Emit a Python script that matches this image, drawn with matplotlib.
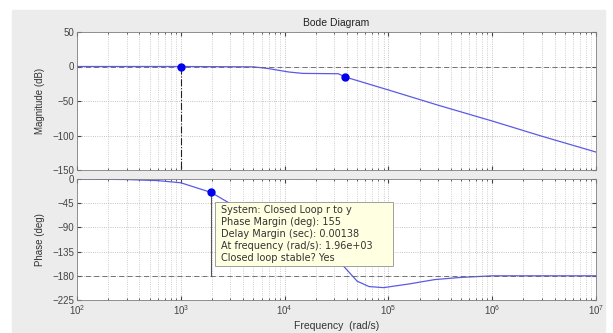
import numpy as np
import matplotlib
matplotlib.use('Agg')
import matplotlib.pyplot as plt
from matplotlib.patches import Rectangle

plt.rcParams['font.family'] = ['Liberation Sans', 'DejaVu Sans']
plt.rcParams['font.size'] = 7

# values
mag_freq = [1e2, 3e2, 1e3, 5e3, 7e3, 1.1e4, 1.5e4, 3.3e4, 3.8e4, 1e5, 3e5, 1e6, 3e6, 1e7]
mag_db = [0, 0, 0, -0.5, -3, -8, -10, -10.5, -15, -34, -56, -79, -101, -124]

phase_freq = [1e2, 3e2, 6e2, 1e3, 1.96e3, 4e3, 1e4, 2e4, 3.5e4, 5e4, 6.5e4, 9e4, 1.6e5, 2.8e5, 5e5, 8e5, 1e6, 3e6, 1e7]
phase_deg = [0, -1, -3, -7, -25, -60, -100, -135, -157, -190, -200, -202, -195, -187, -183, -181, -180, -180, -180]

# markers: (freq, value)
mag_mark1 = (1e3, 0)
mag_mark2 = (3.8e4, -15)
pm_mark = (1.96e3, -25)

tip_lines = ['System: Closed Loop r to y',
             'Phase Margin (deg): 155',
             'Delay Margin (sec): 0.00138',
             'At frequency (rad/s): 1.96e+03',
             'Closed loop stable? Yes']

W, H = 613, 333
fig = plt.figure(figsize=(W/100, H/100), dpi=100)
fig.patches.append(Rectangle((12/W, 0), (605-12)/W, (H-10)/H, transform=fig.transFigure,
                             color='#ececec', zorder=-10))

def px_axes(l, r, t, b):
    return fig.add_axes([l/W, 1-b/H, (r-l)/W, (b-t)/H])

ax1 = px_axes(77, 596, 32, 170)
ax2 = px_axes(77, 596, 179, 300)

line_col = '#5a5ae6'
for ax in (ax1, ax2):
    ax.set_xscale('log')
    ax.set_xlim(1e2, 1e7)
    ax.grid(which='major', axis='both', color='#b0b0b0', linestyle=':', linewidth=0.6)
    ax.grid(which='minor', axis='x', color='#c0c0c0', linestyle=':', linewidth=0.6)
    ax.tick_params(which='both', direction='in', colors='#444444', labelsize=7, length=3,
                   top=True, right=True, pad=2)
    ax.tick_params(which='minor', length=1.5)
    for s in ax.spines.values():
        s.set_color('#808080')
        s.set_linewidth(0.6)

# magnitude
ax1.plot(mag_freq, mag_db, color=line_col, lw=0.9)
ax1.axhline(0, color='#606060', ls='--', lw=0.6, dashes=(6, 4))
ax1.plot([mag_mark1[0]]*2, [mag_mark1[1], -150], color='#222222', ls='-.', lw=0.8)
ax1.plot(*mag_mark1, 'o', color='#0000ee', ms=5)
ax1.plot(*mag_mark2, 'o', color='#0000ee', ms=5)
ax1.set_ylim(-150, 50)
ax1.set_yticks([-150, -100, -50, 0, 50])
ax1.set_xticklabels([])
ax1.set_xticklabels([], minor=True)
ax1.set_ylabel('Magnitude (dB)', color='#333333', labelpad=5, fontsize=7)
ax1.set_title('Bode Diagram', fontsize=7.5, color='#222222', pad=4)

# phase
ax2.plot(phase_freq, phase_deg, color=line_col, lw=0.9)
ax2.axhline(-180, color='#606060', lw=0.6, dashes=(6, 4))
ax2.plot([pm_mark[0]]*2, [pm_mark[1], -180], color='#555555', lw=0.8)
ax2.plot(*pm_mark, 'o', color='#0000ee', ms=5)
ax2.set_ylim(-225, 0)
ax2.set_yticks([-225, -180, -135, -90, -45, 0])
ax2.set_ylabel('Phase (deg)', color='#333333', labelpad=5, fontsize=7)
ax2.set_xticks([1e2, 1e3, 1e4, 1e5, 1e6, 1e7])
ax2.xaxis.set_label_coords((336-77)/519, -(321-300)/121)
ax2.set_xlabel('Frequency  (rad/s)', color='#333333', fontsize=7.5)

# data tip box
bx0, bx1, by0, by1 = 215, 393, 202, 266
ax2.add_patch(Rectangle(((bx0-77)/519, 1-(by1-179)/121), (bx1-bx0)/519, (by1-by0)/121,
                        transform=ax2.transAxes, facecolor='#ffffe1', edgecolor='#909090',
                        lw=0.6, zorder=5))
for i, t in enumerate(tip_lines):
    ax2.text((221-77)/519, 1-(210+12*i-179)/121, t, transform=ax2.transAxes,
             va='center', ha='left', fontsize=7, family='DejaVu Sans',
             color='#333333', zorder=6)

fig.savefig('out.png', dpi=100)
